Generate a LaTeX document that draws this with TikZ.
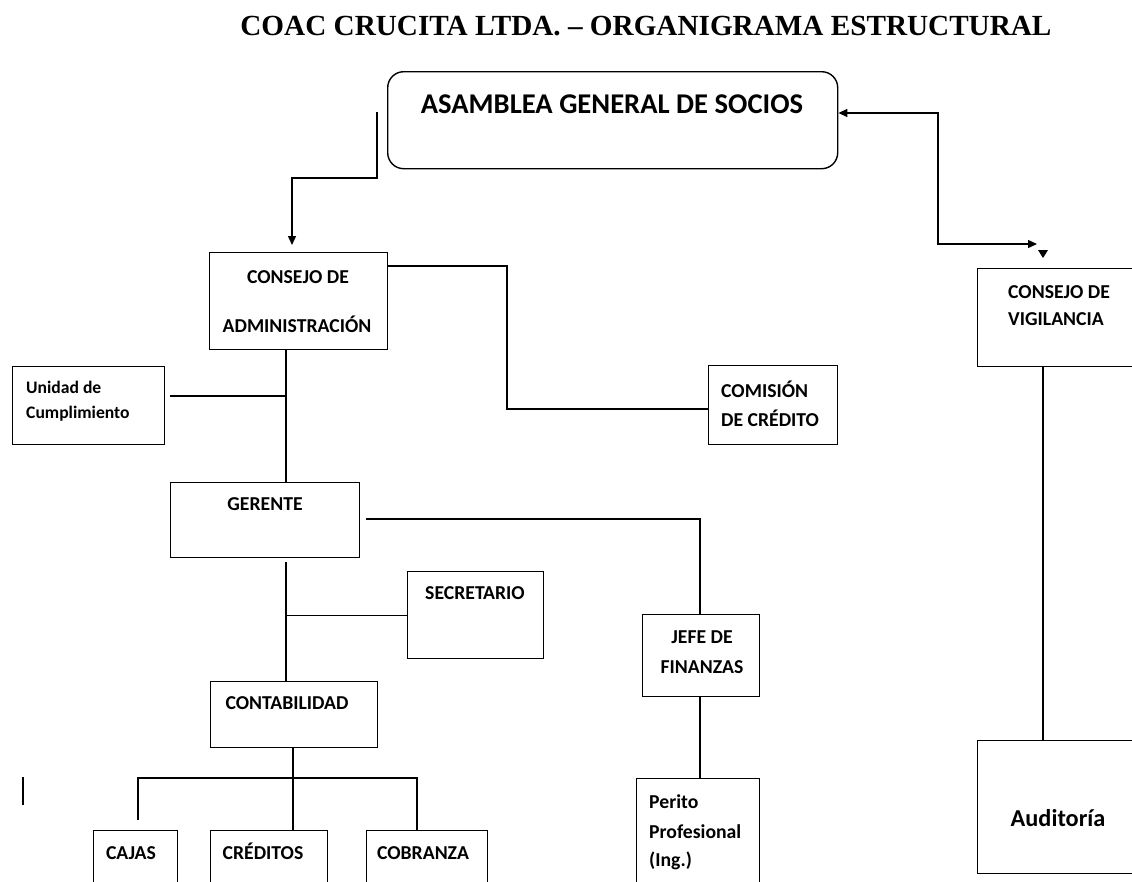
\documentclass[tikz,border=0pt]{standalone}
\usepackage{fontspec}
\setmainfont{Carlito}
\newfontfamily\titlefont{Liberation Serif}
\usetikzlibrary{arrows.meta}
\begin{document}
\begin{tikzpicture}[x=1pt,y=-1pt,
  box/.style={draw, line width=1.4pt, rectangle, inner sep=0pt, anchor=north west},
  txt/.style={font=\fontsize{19.7}{21}\selectfont\bfseries, inner sep=0pt, anchor=base},
  txtl/.style={txt, anchor=base west},
  conn/.style={line width=1.4pt},
  tip/.tip={Triangle[length=9pt,width=8pt]},
  arr/.style={conn, -tip}]
\useasboundingbox (0,0) rectangle (1132,881);
\clip (0,0) rectangle (1132,881);

% title
\node[font=\titlefont\fontsize{29.2}{31}\selectfont\bfseries, anchor=base, inner sep=0pt] (title) at (646,35.5) {COAC CRUCITA LTDA. – ORGANIGRAMA ESTRUCTURAL};

% boxes
\node[box, rounded corners=16pt, minimum width=450, minimum height=97] (asam) at (387,71) {};
\node[box, minimum width=178, minimum height=97] (cadm) at (209,252) {};
\node[box, minimum width=152, minimum height=78] (unid) at (12,366) {};
\node[box, minimum width=129, minimum height=79] (comi) at (708,365) {};
\node[box, minimum width=189, minimum height=75] (ger) at (170,482) {};
\node[box, minimum width=136, minimum height=87] (secr) at (407,571) {};
\node[box, minimum width=167, minimum height=66] (cont) at (210,681) {};
\node[box, minimum width=117, minimum height=82] (jefe) at (642,614) {};
\node[box, minimum width=123, minimum height=150] (perito) at (636,778) {};
\node[box, minimum width=84, minimum height=80] (cajas) at (93,830) {};
\node[box, minimum width=117, minimum height=80] (cred) at (210,830) {};
\node[box, minimum width=121, minimum height=80] (cobr) at (366,830) {};
\node[box, minimum width=200, minimum height=98] (vig) at (977,268) {};
\node[box, minimum width=200, minimum height=133] (aud) at (977,740) {};

% texts
\node[txt, font=\fontsize{28.6}{30}\selectfont\bfseries] (asam-t) at (612,113) {ASAMBLEA GENERAL DE SOCIOS};
\node[txt] (cadm-t1) at (298,283) {CONSEJO DE};
\node[txt] (cadm-t2) at (297,332) {ADMINISTRACIÓN};
\node[txtl, font=\fontsize{17.6}{19}\selectfont\bfseries] (unid-t1) at (26,393) {Unidad de};
\node[txtl, font=\fontsize{17.6}{19}\selectfont\bfseries] (unid-t2) at (26,418) {Cumplimiento};
\node[txtl] (comi-t1) at (721,397) {COMISIÓN};
\node[txtl] (comi-t2) at (721,426) {DE CRÉDITO};
\node[txt] (ger-t) at (265,510) {GERENTE};
\node[txt] (secr-t) at (475,599) {SECRETARIO};
\node[txt] (cont-t) at (287,709) {CONTABILIDAD};
\node[txt] (jefe-t1) at (702,643) {JEFE DE};
\node[txt] (jefe-t2) at (702,673) {FINANZAS};
\node[txtl] (per-t1) at (649,808) {Perito};
\node[txtl] (per-t2) at (649,838) {Profesional};
\node[txtl] (per-t3) at (649,866) {(Ing.)};
\node[txt] (cajas-t) at (131,859) {CAJAS};
\node[txt] (cred-t) at (263,859) {CRÉDITOS};
\node[txt] (cobr-t) at (423,859) {COBRANZA};
\node[txtl] (vig-t1) at (1008,298) {CONSEJO DE};
\node[txtl] (vig-t2) at (1008,325) {VIGILANCIA};
\node[txt, font=\fontsize{24.3}{26}\selectfont\bfseries] (aud-t) at (1058,826) {Auditoría};

% coordinates
\coordinate (a1) at (377,112);
\coordinate (a2) at (292,245);
\coordinate (b1) at (938,113);
\coordinate (b2) at (1037,244);
\coordinate (c1) at (507,266);
\coordinate (c2) at (507,409);
\coordinate (g0) at (286,0);
\coordinate (u1) at (170,396);
\coordinate (j1) at (700,519);
\coordinate (j0) at (366,519);
\coordinate (k0) at (293,778);
\coordinate (k1) at (138,820);
\coordinate (k2) at (417,778);
\coordinate (v0) at (1043,0);
\coordinate (bar1) at (23,777);
\coordinate (bar2) at (23,805);

% connectors
\draw[arr] (a1) -- ++(0,66) -| (a2);
\draw[conn, tip-tip] (asam.east |- b1) -- (b1) |- (b2);
\fill (1038,250) -- (1048,250) -- (1043,258) -- cycle;
\draw[conn] (cadm.east |- c1) -- (c1) -- (c2) -- (comi.west |- c2);
\draw[conn] (cadm.south -| g0) -- (ger.north -| g0);
\draw[conn] (u1) -- (u1 -| g0);
\draw[conn] (j0) -- (j1) -- (jefe.north -| j1);
\draw[conn] (jefe.south -| j1) -- (perito.north -| j1);
\draw[conn] (g0 |- 0,562) -- (cont.north -| g0);
\draw[conn] (secr.west) -- (secr.west -| g0);
\draw[conn] (cont.south -| k0) -- (cred.north -| k0);
\draw[conn] (k0) -| (k1);
\draw[conn] (k0) -- (k2) -- (cobr.north -| k2);
\draw[conn] (vig.south -| v0) -- (aud.north -| v0);
\draw[line width=2.6pt] (bar1) -- (bar2);
\end{tikzpicture}
\end{document}
